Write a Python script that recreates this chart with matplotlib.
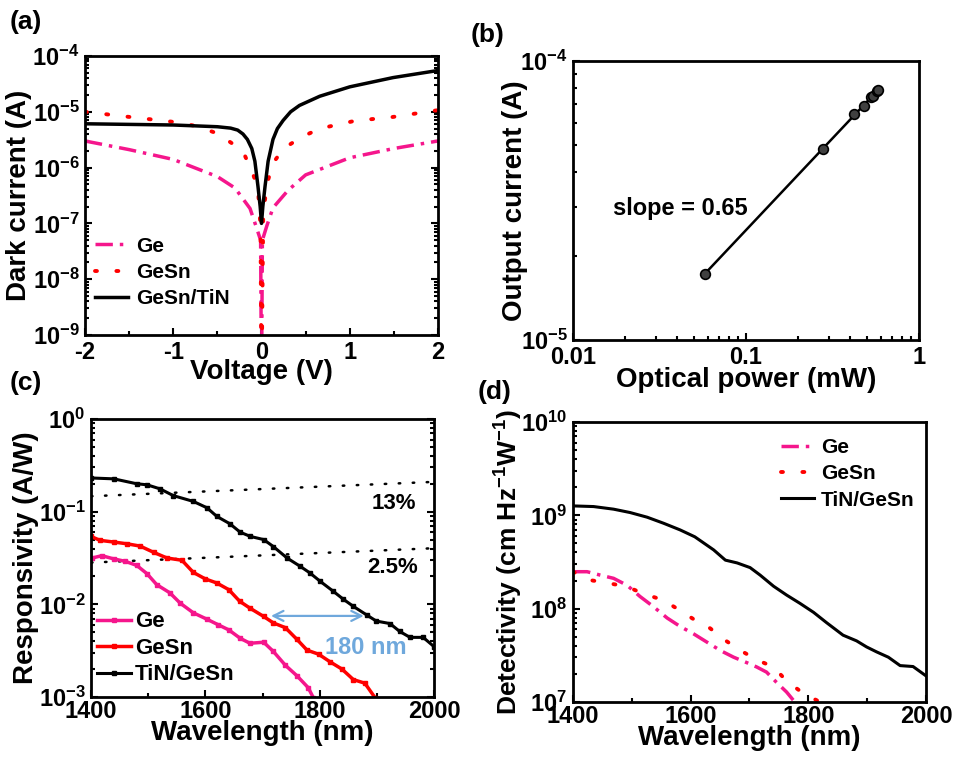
import numpy as np
import matplotlib
matplotlib.use('Agg')
import matplotlib.pyplot as plt
from matplotlib.ticker import LogLocator, FuncFormatter, FixedLocator, MultipleLocator, NullFormatter

plt.rcParams['font.family'] = ['Liberation Sans', 'DejaVu Sans']
plt.rcParams['font.weight'] = 'bold'
plt.rcParams['axes.labelweight'] = 'bold'
plt.rcParams['mathtext.fontset'] = 'custom'
plt.rcParams['mathtext.rm'] = 'Liberation Sans:bold'
plt.rcParams['mathtext.bf'] = 'Liberation Sans:bold'
plt.rcParams['mathtext.default'] = 'bf'

PINK = '#f5168c'
RED = '#ff0000'
BLUE = '#6fa8dc'

# (a) dark current vs voltage
v_ge = [-2, -1.5, -1, -0.5, -0.3, -0.13, -0.06, -0.01, 0, 0.01, 0.06, 0.13, 0.3, 0.5, 1, 1.5, 2]
i_ge = [3e-6, 2.1e-6, 1.4e-6, 6.9e-7, 4.3e-7, 1.85e-7, 8.7e-8, 5e-8, 1e-10,
        5e-8, 9e-8, 1.9e-7, 3.9e-7, 7.4e-7, 1.5e-6, 2.2e-6, 3e-6]
v_gesn = [-2, -1.5, -1, -0.75, -0.5, -0.3, -0.2, -0.1, -0.04, -0.026, -0.011, 0,
          0.019, 0.04, 0.075, 0.13, 0.25, 0.45, 0.66, 1.06, 1.47, 2]
i_gesn = [1e-5, 8.1e-6, 6.6e-6, 5.6e-6, 4.1e-6, 2.5e-6, 1.8e-6, 8e-7, 4.2e-7, 1.9e-7, 8.7e-8, 1e-10,
          1.2e-7, 2.7e-7, 6e-7, 1.2e-6, 2.2e-6, 3.5e-6, 5e-6, 6.9e-6, 8e-6, 1.07e-5]
v_tin = [-2, -1, -0.5, -0.35, -0.27, -0.21, -0.16, -0.11, -0.075, -0.04, -0.015, 0,
         0.015, 0.04, 0.075, 0.13, 0.18, 0.245, 0.33, 0.43, 0.66, 1.0, 1.49, 2]
i_tin = [6.1e-6, 5.8e-6, 5.4e-6, 5.1e-6, 4.7e-6, 4e-6, 3.2e-6, 2.2e-6, 1.3e-6, 4.6e-7, 2e-7, 1e-7,
         2e-7, 4.6e-7, 1.3e-6, 3.2e-6, 5e-6, 7e-6, 1e-5, 1.3e-5, 1.9e-5, 2.8e-5, 4.1e-5, 5.5e-5]

# (b) output current vs optical power
power = [0.058, 0.279, 0.42, 0.48, 0.53, 0.545, 0.575, 0.58]
current = [1.73e-5, 4.85e-5, 6.47e-5, 6.9e-5, 7.43e-5, 7.5e-5, 7.8e-5, 7.9e-5]

# (c) responsivity
wl_tin_c = [1400, 1440, 1480, 1498, 1521, 1544, 1579, 1603, 1620, 1643, 1661, 1679, 1702, 1719, 1743,
            1766, 1783, 1801, 1824, 1841, 1859, 1882, 1899, 1923, 1940, 1958, 1981, 2000]
r_tin = [0.231, 0.226, 0.2, 0.195, 0.176, 0.149, 0.129, 0.11, 0.089, 0.074, 0.060, 0.054, 0.050, 0.042,
         0.0316, 0.0257, 0.0218, 0.0177, 0.0138, 0.0114, 0.0095, 0.0077, 0.0066, 0.0062, 0.0051, 0.0044,
         0.0044, 0.0035]
wl_gesn_c = [1400, 1416, 1440, 1463, 1486, 1510, 1533, 1559, 1579, 1600, 1620, 1641, 1660, 1678, 1702,
             1719, 1740, 1760, 1778, 1798, 1818, 1839, 1859, 1879, 1897]
r_gesn = [0.054, 0.049, 0.047, 0.045, 0.0425, 0.0363, 0.0316, 0.0299, 0.0221, 0.0188, 0.017, 0.0144,
          0.0108, 0.0091, 0.0074, 0.0063, 0.0056, 0.0042, 0.0032, 0.0029, 0.0024, 0.0020, 0.00154,
          0.00141, 0.00098]
wl_ge_c = [1402, 1419, 1440, 1460, 1480, 1498, 1515, 1538, 1556, 1579, 1603, 1623, 1641, 1661, 1678,
           1702, 1719, 1740, 1760, 1780, 1789]
r_ge = [0.0316, 0.0335, 0.0309, 0.0291, 0.0263, 0.0214, 0.0163, 0.0133, 0.0103, 0.0081, 0.0069, 0.006,
        0.0053, 0.0043, 0.0038, 0.0039, 0.0031, 0.0022, 0.0017, 0.00126, 0.00098]
qe_levels = [0.13, 0.025]
qe_labels = ['13%', '2.5%']

# (d) detectivity (log10 values)
wl_tin_d = [1400, 1435, 1469, 1497, 1526, 1554, 1582, 1607, 1639, 1659, 1679, 1701, 1718, 1741, 1763,
            1786, 1809, 1831, 1859, 1882, 1899, 1916, 1936, 1956, 1978, 2000]
d_tin = [9.101, 9.094, 9.066, 9.03, 8.98, 8.915, 8.844, 8.77, 8.63, 8.52, 8.49, 8.44, 8.36, 8.24, 8.146,
         8.056, 7.96, 7.85, 7.716, 7.655, 7.59, 7.537, 7.48, 7.39, 7.38, 7.28]
wl_ge_d = [1400, 1424, 1446, 1469, 1492, 1514, 1537, 1560, 1582, 1605, 1628, 1651, 1673, 1696, 1712,
           1729, 1746, 1763, 1777]
d_ge = [8.396, 8.396, 8.36, 8.325, 8.25, 8.13, 8.02, 7.9, 7.81, 7.73, 7.64, 7.55, 7.48, 7.42, 7.376,
        7.32, 7.21, 7.107, 7.0]
wl_gesn_d = [1400, 1429, 1463, 1492, 1520, 1554, 1582, 1608, 1633, 1659, 1684, 1713, 1741, 1763, 1792, 1820]
d_gesn = [8.396, 8.306, 8.27, 8.235, 8.16, 8.09, 7.98, 7.875, 7.79, 7.66, 7.555, 7.45, 7.375, 7.225, 7.09, 7.0]

W, H = 954, 758
fig = plt.figure(figsize=(W / 100, H / 100), dpi=100)


def box(l, t, r, b):
    return [l / W, 1 - b / H, (r - l) / W, (b - t) / H]


def exp_fmt(y, pos):
    e = int(round(np.log10(y)))
    return r'$\mathbf{10^{%d}}$' % e


def style(ax, right=False):
    for s in ax.spines.values():
        s.set_linewidth(2)
    ax.tick_params(which='both', direction='in', right=right, top=False, width=1.5, labelsize=17, pad=4)
    ax.tick_params(which='major', length=5)
    ax.tick_params(which='minor', length=3)


def logy(ax):
    ax.yaxis.set_major_locator(LogLocator(base=10, numticks=20))
    ax.yaxis.set_minor_locator(LogLocator(base=10, subs=np.arange(2, 10), numticks=100))
    ax.yaxis.set_major_formatter(FuncFormatter(exp_fmt))
    ax.yaxis.set_minor_formatter(NullFormatter())


ge_ls = (0, (5, 2, 1, 2))
dot_ls = (0, (0.5, 5))

# ---- (a)
ax = fig.add_axes(box(85, 56, 438, 335))
ax.plot(v_ge, i_ge, color=PINK, lw=2.5, ls=ge_ls, label='Ge')
ax.plot(v_gesn, i_gesn, color=RED, lw=2.8, ls=dot_ls, dash_capstyle='round', label='GeSn')
ax.plot(v_tin, i_tin, color='black', lw=2.5, label='GeSn/TiN')
ax.set_yscale('log')
ax.set_xlim(-2, 2)
ax.set_ylim(1e-9, 1e-4)
logy(ax)
ax.xaxis.set_major_locator(MultipleLocator(1))
ax.xaxis.set_minor_locator(MultipleLocator(0.5))
ax.xaxis.set_major_formatter(FuncFormatter(lambda x, p: '%d' % x))
style(ax, right=True)
ax.set_xlabel('Voltage (V)', fontsize=20, labelpad=-3)
ax.set_ylabel('Dark current (A)', fontsize=20, labelpad=0)
ax.legend(loc='upper left', bbox_to_anchor=(-0.025, 0.42), frameon=False, fontsize=15,
          handlelength=1.6, handletextpad=0.4, labelspacing=0.35)

# ---- (b)
ax = fig.add_axes(box(573, 61, 919, 340))
ax.set_xscale('log')
ax.set_yscale('log')
k, c0 = np.polyfit(np.log10(power), np.log10(current), 1)
xf = np.array([power[0], power[-1]])
ax.plot(xf, 10 ** (c0 + k * np.log10(xf)), color='black', lw=1.8)
ax.plot(power, current, 'o', ms=7, mfc='#404040', mec='black', mew=1.2)
ax.set_xlim(0.01, 1)
ax.set_ylim(1e-5, 1e-4)
ax.xaxis.set_major_locator(FixedLocator([0.01, 0.1, 1]))
ax.xaxis.set_major_formatter(FuncFormatter(lambda x, p: '%g' % x))
ax.xaxis.set_minor_locator(LogLocator(base=10, subs=np.arange(2, 10), numticks=100))
ax.xaxis.set_minor_formatter(NullFormatter())
logy(ax)
style(ax)
ax.text(0.0415, 2.97e-5, 'slope = 0.65', fontsize=17, ha='center', va='center')
ax.set_xlabel('Optical power (mW)', fontsize=20, labelpad=-1)
ax.set_ylabel('Output current (A)', fontsize=20, labelpad=-6)

# ---- (c)
ax = fig.add_axes(box(91, 419, 434, 697))
ax.set_yscale('log')
wl_line = np.array([1400, 2000])
for q in qe_levels:
    ax.plot(wl_line, q * wl_line / 1240.0, color='black', lw=1.8, ls=(0, (0.6, 5)), dash_capstyle='round')
ax.plot(wl_ge_c, r_ge, color=PINK, lw=2.5, marker='s', ms=3, label='Ge')
ax.plot(wl_gesn_c, r_gesn, color=RED, lw=2.5, marker='s', ms=3, label='GeSn')
ax.plot(wl_tin_c, r_tin, color='black', lw=2.2, marker='s', ms=3, label='TiN/GeSn')
ax.text(1930, 0.124, qe_labels[0], fontsize=16, ha='center', va='center')
ax.text(1928, 0.025, qe_labels[1], fontsize=16, ha='center', va='center')
ax.annotate('', xy=(1710, 0.0075), xytext=(1882, 0.0075),
            arrowprops=dict(arrowstyle='<->', color=BLUE, lw=1.6, mutation_scale=18))
ax.text(1881, 0.0034, '180 nm', fontsize=17, color=BLUE, ha='center', va='center')
ax.set_xlim(1400, 2000)
ax.set_ylim(1e-3, 1)
logy(ax)
ax.xaxis.set_major_locator(MultipleLocator(200))
ax.xaxis.set_minor_locator(MultipleLocator(100))
style(ax, right=True)
ax.tick_params(axis='x', pad=2)
ax.set_xlabel('Wavelength (nm)', fontsize=20, labelpad=-2)
ax.set_ylabel('Responsivity (A/W)', fontsize=20, labelpad=0)
ax.legend(loc='upper left', bbox_to_anchor=(-0.04, 0.38), frameon=False, fontsize=16,
          handlelength=1.5, handletextpad=0.2, labelspacing=0.25)

# ---- (d)
ax = fig.add_axes(box(573, 422, 926, 702))
ax.set_yscale('log')
ax.plot(wl_ge_d, 10 ** np.array(d_ge), color=PINK, lw=2.5, ls=ge_ls, label='Ge')
ax.plot(wl_gesn_d, 10 ** np.array(d_gesn), color=RED, lw=2.8, ls=dot_ls, dash_capstyle='round', label='GeSn')
ax.plot(wl_tin_d, 10 ** np.array(d_tin), color='black', lw=2.2, label='TiN/GeSn')
ax.set_xlim(1400, 2000)
ax.set_ylim(1e7, 1e10)
logy(ax)
ax.xaxis.set_major_locator(MultipleLocator(200))
ax.xaxis.set_minor_locator(MultipleLocator(100))
style(ax)
ax.tick_params(axis='x', pad=2)
ax.set_xlabel('Wavelength (nm)', fontsize=20, labelpad=-2)
ax.set_ylabel('Detectivity (cm Hz$^{-1}$W$^{-1}$)', fontsize=19, labelpad=-3)
ax.legend(loc='upper right', bbox_to_anchor=(1.02, 1.01), frameon=False, fontsize=15,
          handlelength=1.6, handletextpad=0.3, labelspacing=0.35)

# panel labels
for lab, x, y in [('(a)', 10, 22), ('(b)', 471, 35), ('(c)', 10, 383), ('(d)', 478, 392)]:
    fig.text(x / W, 1 - y / H, lab, fontsize=19, ha='left', va='center')

fig.savefig('out.png', dpi=100)
